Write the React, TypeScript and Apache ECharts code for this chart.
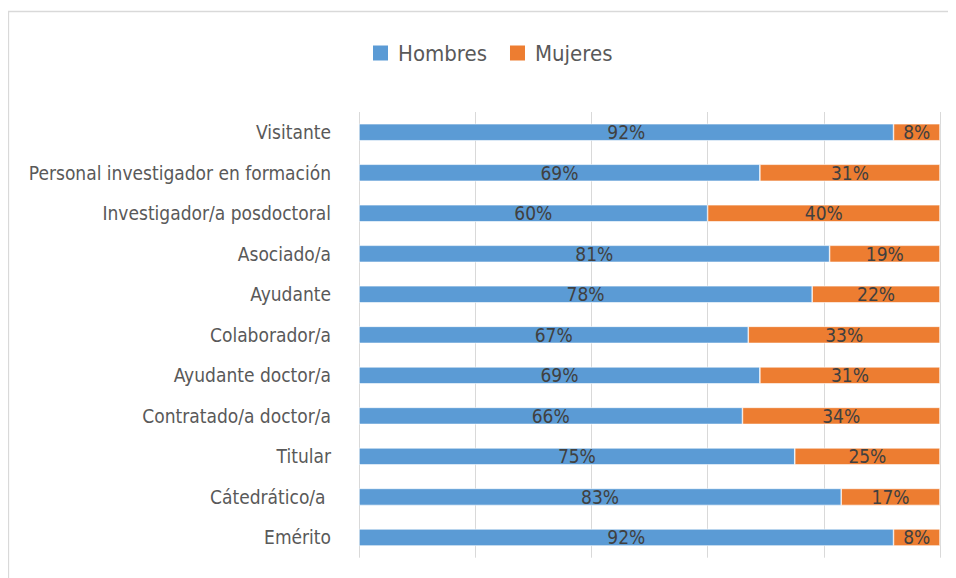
import React, { useEffect, useRef } from "react";
import * as echarts from "echarts";

const categories = [
  "Visitante",
  "Personal investigador en formación",
  "Investigador/a posdoctoral",
  "Asociado/a",
  "Ayudante",
  "Colaborador/a",
  "Ayudante doctor/a",
  "Contratado/a doctor/a",
  "Titular",
  "Cátedrático/a ",
  "Emérito",
];
const hombres = [92, 69, 60, 81, 78, 67, 69, 66, 75, 83, 92];
const mujeres = [8, 31, 40, 19, 22, 33, 31, 34, 25, 17, 8];
const seriesNames = ["Hombres", "Mujeres"];

const FONT = "'DejaVu Sans Condensed', 'Liberation Sans Narrow', sans-serif";

export default function App() {
  const ref = useRef<HTMLDivElement>(null);
  useEffect(() => {
    if (!ref.current) return;
    const chart = echarts.init(ref.current, undefined, { renderer: "svg" });
    const labelStyle = {
      show: true,
      position: "inside" as const,
      formatter: "{c}%",
      color: "#404040",
      fontFamily: FONT,
      fontSize: 19,
    };
    chart.setOption({
      animation: false,
      textStyle: { fontFamily: FONT },
      graphic: [
        {
          type: "rect",
          shape: { x: 0.5, y: 3.5, width: 1200, height: 1200 },
          style: { fill: "none", stroke: "#d9d9d9", lineWidth: 1.3 },
          silent: true,
        },
      ],
      legend: {
        data: seriesNames,
        top: 29,
        left: 358,
        itemWidth: 17,
        itemHeight: 17,
        itemGap: 21,
        icon: "rect",
        textStyle: { fontFamily: FONT, fontSize: 22, color: "#595959", padding: [0, 0, 0, 4] },
      },
      grid: {
        left: 351,
        right: 16,
        top: 104,
        bottom: 20.3,
        containLabel: false,
        outerBoundsMode: "none",
      },
      xAxis: {
        type: "value",
        min: 0,
        max: 100,
        interval: 20,
        axisLabel: { show: false },
        axisLine: { show: false },
        axisTick: { show: false },
        splitLine: { show: true, lineStyle: { color: "#d9d9d9", width: 1 } },
      },
      yAxis: {
        type: "category",
        data: categories,
        inverse: true,
        axisLine: { show: false },
        axisTick: { show: false },
        axisLabel: {
          margin: 28,
          color: "#595959",
          fontFamily: FONT,
          fontSize: 19,
        },
      },
      series: [
        {
          name: seriesNames[0],
          type: "bar",
          stack: "total",
          data: hombres,
          barWidth: "42%",
          itemStyle: { color: "#5b9bd5", borderColor: "#ffffff", borderWidth: 0.6 },
          label: labelStyle,
        },
        {
          name: seriesNames[1],
          type: "bar",
          stack: "total",
          data: mujeres,
          barWidth: "42%",
          itemStyle: { color: "#ed7d31", borderColor: "#ffffff", borderWidth: 0.6 },
          label: labelStyle,
        },
      ],
    });
    return () => chart.dispose();
  }, []);
  return <div ref={ref} style={{ width: 948, height: 570 }} />;
}
